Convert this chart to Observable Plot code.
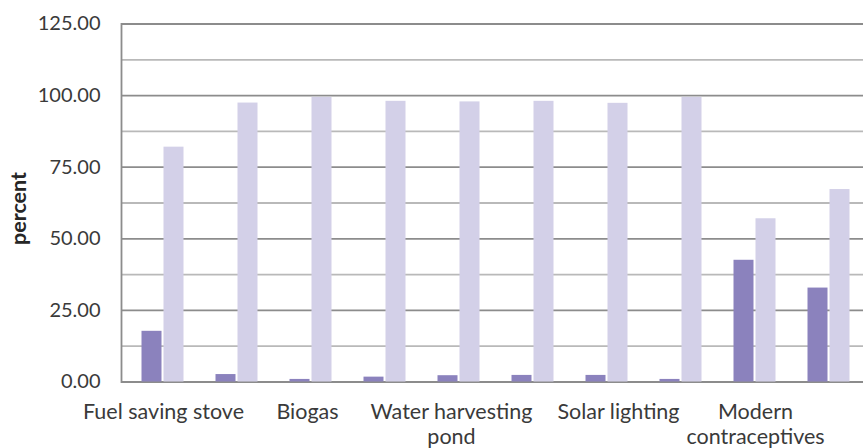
<!DOCTYPE html>
<html>
<head>
<meta charset="utf-8">
<script src="https://cdn.jsdelivr.net/npm/d3@7"></script>
<script src="https://cdn.jsdelivr.net/npm/@observablehq/plot@0.6"></script>
<style>
  html, body { margin: 0; padding: 0; background: #fff; }
  #chart svg { display: block; }
</style>
</head>
<body>
<div id="chart"></div>
<script>
// Ten category slots; Excel shows only every other label.
const categoryIds = [1, 2, 3, 4, 5, 6, 7, 8, 9, 10];
const tickLabels = ["Fuel saving stove", "", "Biogas", "", "Water harvesting\npond", "", "Solar lighting", "", "Modern\ncontraceptives", ""];
const darkValues = [17.7, 2.6, 0.9, 1.7, 2.2, 2.3, 2.3, 0.9, 42.5, 32.8];
const lightValues = [82.0, 97.4, 99.4, 98.0, 97.8, 98.0, 97.3, 99.4, 57.0, 67.2];
const majorTicks = [0, 25, 50, 75, 100, 125];
const minorTicks = [12.5, 37.5, 62.5, 87.5, 112.5];
const yLabel = "percent";

const darkRows = categoryIds.map((id, i) => ({id, value: darkValues[i]}));
const lightRows = categoryIds.map((id, i) => ({id, value: lightValues[i]}));
const labelOf = new Map(categoryIds.map((id, i) => [id, tickLabels[i]]));

const font = "Lato, 'Open Sans', sans-serif";

const xAxisStyle = {
  tickFormat: (d) => labelOf.get(d),
  tickSize: 0,
  tickPadding: 19,
  fontSize: 21.5,
  lineHeight: 1.16,
  fill: "#3a3a3a",
  label: null
};

const chart = Plot.plot({
  width: 863,
  height: 448,
  marginLeft: 121,
  marginRight: 0,
  marginTop: 23.5,
  marginBottom: 66.5,
  style: {fontFamily: font, background: "#fff", overflow: "hidden"},
  x: {type: "band", domain: categoryIds, range: [120.5, 870], padding: 0},
  y: {domain: [0, 125]},
  marks: [
    Plot.ruleY(minorTicks, {stroke: "#b9b9b9", strokeWidth: 1.8}),
    Plot.ruleY(majorTicks, {stroke: "#8c8c8c", strokeWidth: 1.8}),
    Plot.frame({anchor: "left", stroke: "#8c8c8c", strokeWidth: 1.8}),
    Plot.barY(darkRows, {x: "id", y: "value", fill: "#8b82bd", insetLeft: 16.5, insetRight: 37.5}),
    Plot.barY(lightRows, {x: "id", y: "value", fill: "#d3d0e8", insetLeft: 38.5, insetRight: 15.5}),
    Plot.axisY({
      ticks: majorTicks,
      tickFormat: d3.format(".2f"),
      tickSize: 0,
      tickPadding: 21,
      fontSize: 20,
      fill: "#3a3a3a",
      label: null
    }),
    Plot.axisX({...xAxisStyle, ticks: [1, 9], dx: 1}),
    Plot.axisX({...xAxisStyle, ticks: [3], dx: -3}),
    Plot.axisX({...xAxisStyle, ticks: [5], dx: -7}),
    Plot.axisX({...xAxisStyle, ticks: [7], dx: 12}),
    Plot.text([yLabel], {
      frameAnchor: "left",
      rotate: -90,
      dx: -102,
      dy: 42,
      fontWeight: "bold",
      fontSize: 21.5,
      fill: "#262626"
    })
  ]
});
document.getElementById("chart").append(chart);
</script>
</body>
</html>
